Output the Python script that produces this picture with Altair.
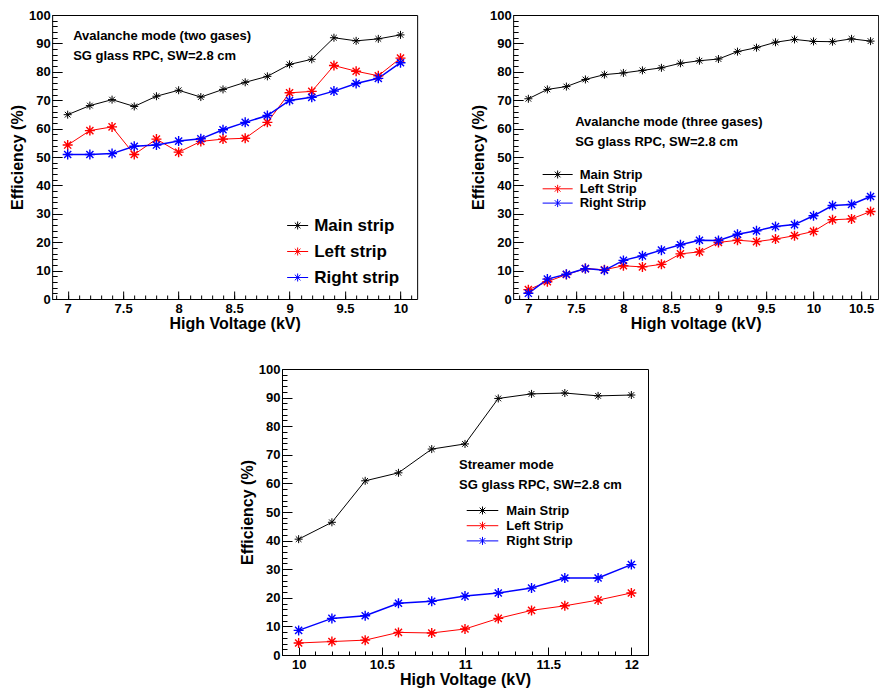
import altair as alt
import pandas as pd
import numpy as np

FONT = "Liberation Sans"
COLORS = ["#000000", "#ff0000", "#0000ff"]

# ---------------- Panel 1: Avalanche mode (two gases) ----------------
hv1 = [7.0, 7.2, 7.4, 7.6, 7.8, 8.0, 8.2, 8.4, 8.6, 8.8, 9.0, 9.2, 9.4, 9.6, 9.8, 10.0]
main1 = [64.9, 68.1, 70.2, 67.8, 71.4, 73.5, 71.1, 73.8, 76.3, 78.4, 82.6, 84.4, 92.0, 90.9, 91.6, 93.0]
left1 = [54.2, 59.3, 60.6, 50.9, 56.3, 51.7, 55.5, 56.3, 56.6, 62.2, 72.6, 73.1, 82.2, 80.2, 78.6, 84.8]
right1 = [50.9, 50.9, 51.2, 53.8, 54.2, 55.6, 56.4, 59.6, 62.2, 64.6, 69.9, 71.0, 73.2, 75.9, 77.7, 83.2]
names1 = ["Main strip", "Left strip", "Right strip"]
annot1 = ["Avalanche mode (two gases)", "SG glass RPC, SW=2.8 cm"]
xtitle1 = "High Voltage (kV)"

# ---------------- Panel 2: Avalanche mode (three gases) ----------------
hv2 = [7.0, 7.2, 7.4, 7.6, 7.8, 8.0, 8.2, 8.4, 8.6, 8.8, 9.0, 9.2, 9.4, 9.6, 9.8, 10.0, 10.2, 10.4, 10.6]
main2 = [70.5, 73.8, 74.8, 77.3, 79.0, 79.6, 80.5, 81.4, 83.0, 83.9, 84.5, 87.1, 88.5, 90.4, 91.4, 90.7, 90.6, 91.6, 90.8]
left2 = [3.3, 6.1, 8.6, 10.7, 10.3, 11.7, 11.3, 12.2, 15.9, 16.6, 19.9, 20.7, 20.2, 21.1, 22.3, 23.8, 27.9, 28.2, 30.8]
right2 = [2.0, 7.0, 8.7, 10.7, 10.1, 13.6, 15.2, 17.2, 19.1, 20.7, 20.6, 22.8, 24.0, 25.5, 26.2, 29.3, 32.9, 33.3, 36.1]
names2 = ["Main Strip", "Left Strip", "Right Strip"]
annot2 = ["Avalanche mode (three gases)", "SG glass RPC, SW=2.8 cm"]
xtitle2 = "High voltage (kV)"

# ---------------- Panel 3: Streamer mode ----------------
hv3 = [10.0, 10.2, 10.4, 10.6, 10.8, 11.0, 11.2, 11.4, 11.6, 11.8, 12.0]
main3 = [40.5, 46.4, 60.9, 63.7, 72.0, 73.8, 89.7, 91.3, 91.6, 90.6, 90.9]
left3 = [4.2, 4.7, 5.2, 7.9, 7.7, 9.1, 12.8, 15.6, 17.2, 19.2, 21.7]
right3 = [8.6, 12.8, 13.7, 18.1, 18.8, 20.6, 21.7, 23.4, 26.9, 26.9, 31.6]
names3 = ["Main Strip", "Left Strip", "Right Strip"]
annot3 = ["Streamer mode", "SG glass RPC, SW=2.8 cm"]
xtitle3 = "High Voltage (kV)"

YTITLE = "Efficiency (%)"

STAR = "M-1,0L1,0M0,-1L0,1M-0.71,-0.71L0.71,0.71M-0.71,0.71L0.71,-0.71"


def legend_path(L, m):
    d = round(0.71 * m, 3)
    return (f"M{-L},0L{L},0M0,{-m}L0,{m}M{-d},{-d}L{d},{d}M{-d},{d}L{d},{-d}")


def long_df(hv, series, names):
    rows = []
    for name, vals in zip(names, series):
        for h, v in zip(hv, vals):
            rows.append({"hv": h, "eff": v, "strip": name})
    return pd.DataFrame(rows)


def tick_values(lo, hi, step):
    n0 = int(np.ceil(lo / step - 1e-9))
    n1 = int(np.floor(hi / step + 1e-9))
    return [round(i * step, 4) for i in range(n0, n1 + 1)]


def panel(df, names, xdom, xtitle, annot, ax, ay, agap, afs, leg, W, H):
    xs = alt.Scale(domain=xdom, nice=False, zero=False)
    ys = alt.Scale(domain=[0, 100], nice=False)
    color = alt.Color("strip:N",
                      scale=alt.Scale(domain=names, range=COLORS),
                      legend=alt.Legend(**leg))
    major_x = alt.Axis(values=tick_values(xdom[0], xdom[1], 0.5), format="~g",
                       tickSize=8, offset=-8, domain=False, grid=False,
                       labelPadding=3, title=xtitle, titlePadding=0, orient="bottom")
    minor_x = alt.Axis(values=tick_values(xdom[0], xdom[1], 0.1), tickSize=4, offset=-4,
                       domain=False, grid=False, labels=False, title=None, orient="bottom")
    major_y = alt.Axis(values=list(range(0, 101, 10)), tickSize=10, offset=-10,
                       domain=False, grid=False, labelPadding=2, title=YTITLE,
                       titlePadding=3, orient="left")
    minor_y = alt.Axis(values=list(range(0, 101, 2)), tickSize=5, offset=-5,
                       domain=False, grid=False, labels=False, title=None, orient="left")
    is_right = f"datum.strip === '{names[2]}'"
    is_main = f"datum.strip === '{names[0]}'"
    lines = alt.Chart(df).mark_line().encode(
        x=alt.X("hv:Q", scale=xs, axis=major_x),
        y=alt.Y("eff:Q", scale=ys, axis=major_y),
        color=color,
        strokeWidth=alt.condition(is_right, alt.value(1.5), alt.value(1)),
    )
    pts = alt.Chart(df).mark_point(shape=STAR, filled=False, opacity=1).encode(
        x=alt.X("hv:Q", scale=xs, axis=minor_x),
        y=alt.Y("eff:Q", scale=ys, axis=minor_y),
        color=color,
        size=alt.condition(is_main, alt.value(64), alt.value(100)),
        strokeWidth=alt.condition(is_main, alt.value(1), alt.value(1.4)),
    )
    layers = [lines, pts]
    for i, t in enumerate(annot):
        layers.append(
            alt.Chart(pd.DataFrame({"t": [t]})).mark_text(
                align="left", baseline="middle", font=FONT, fontWeight="bold",
                fontSize=afs, color="black"
            ).encode(text="t:N", x=alt.value(ax), y=alt.value(ay + i * agap))
        )
    return alt.layer(*layers).resolve_axis(x="independent", y="independent").properties(
        width=W, height=H)


common_leg = dict(orient="none", title=None, padding=0, symbolStrokeWidth=1,
                  labelFont=FONT, labelFontWeight="bold", labelColor="black",
                  symbolFillColor="transparent")

leg1 = dict(common_leg, legendX=237, legendY=202, symbolType=legend_path(2.625, 1),
            symbolSize=64, labelFontSize=17, labelOffset=8, rowPadding=8)
leg2 = dict(common_leg, legendX=38, legendY=153, symbolType=legend_path(2.73, 0.727),
            symbolSize=121, labelFontSize=13, labelOffset=15.5, rowPadding=0.3)
leg3 = dict(common_leg, legendX=194, legendY=135, symbolType=legend_path(2.87, 0.727),
            symbolSize=121, labelFontSize=13, labelOffset=17.3, rowPadding=1.2)

df1 = long_df(hv1, [main1, left1, right1], names1)
df2 = long_df(hv2, [main2, left2, right2], names2)
df3 = long_df(hv3, [main3, left3, right3], names3)

p1 = panel(df1, names1, [6.86, 10.15], xtitle1, annot1, 21, 21, 20, 13, leg1, 365, 284)
p2 = panel(df2, names2, [6.84, 10.68], xtitle2, annot2, 62, 107, 20, 13, leg2, 365, 284)
p3 = panel(df3, names3, [9.9, 12.1], xtitle3, annot3, 177, 96, 20, 13, leg3, 366, 286)

top = alt.hconcat(p1, p2, spacing=51).resolve_scale(color="independent").resolve_legend(
    color="independent")
chart = alt.vconcat(top, p3, spacing=30, center=True).resolve_scale(
    color="independent").resolve_legend(color="independent").properties(
    padding={"left": 0, "top": 0, "right": 0, "bottom": 0}, background="white"
).configure_view(
    stroke="black", strokeWidth=1
).configure_axis(
    labelFont=FONT, labelFontWeight="bold", labelFontSize=13, labelColor="black",
    tickColor="black", tickWidth=1,
    titleFont=FONT, titleFontWeight="bold", titleFontSize=16, titleColor="black"
)

chart.save("out.html", embed_options={"renderer": "svg", "actions": False})
